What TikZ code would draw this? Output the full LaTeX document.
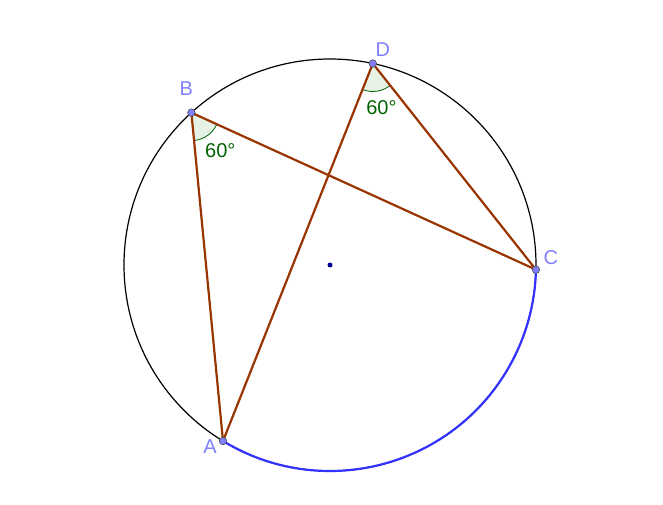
\documentclass[tikz,border=0pt]{standalone}
\usepackage{fontspec}
\setmainfont{Liberation Sans}
\usetikzlibrary{calc,angles}
\definecolor{segbrown}{HTML}{993300}
\definecolor{arcblue}{HTML}{3333FF}
\definecolor{ptblue}{HTML}{7F7FFF}
\definecolor{lblblue}{HTML}{8080FF}
\definecolor{angfill}{HTML}{E6F2E6}
\definecolor{anggreen}{HTML}{006400}

\begin{document}
\begin{tikzpicture}[x=1pt, y=1pt,
        seg/.style={segbrown, line width=2.2pt},
        pt/.style={circle, draw=black!70, fill=ptblue, line width=0.6pt, inner sep=0pt, minimum size=7.5pt},
        ptlabel/.style={lblblue, font=\fontsize{20}{24}\selectfont, inner sep=0pt},
        anglabel/.style={anggreen, font=\fontsize{20}{24}\selectfont, inner sep=0pt},
        angmark/.style={draw=anggreen, fill=angfill, line width=0.8pt, angle radius=28pt}]
        \useasboundingbox (0,0) rectangle (663,504);

        \coordinate (O) at (330,239);
        \coordinate (A) at ($(O)+(238.7:206)$);
        \coordinate (B) at ($(O)+(132.3:206)$);
        \coordinate (C) at ($(O)+(358.7:206)$);
        \coordinate (D) at ($(O)+(78:206)$);

        % circle and the arc AC
        \draw[black, line width=1.2pt] (O) circle[radius=206];
        \draw[arcblue, line width=2.2pt] (A) arc[start angle=238.7, end angle=358.7, radius=206];

        % inscribed angles
        \pic[angmark] {angle = A--B--C};
        \pic[angmark] {angle = A--D--C};
        \node[anglabel] (lB) at ($(B)+(-53:48)$) {60°};
        \node[anglabel] (lD) at ($(D)+(281:45)$) {60°};

        \draw[seg] (B) -- (A);
        \draw[seg] (B) -- (C);
        \draw[seg] (D) -- (A);
        \draw[seg] (D) -- (C);

        \node[circle, fill=blue!60!black, inner sep=0pt, minimum size=5pt] (M) at (O) {};
        \node[pt] (pA) at (A) {};
        \node[pt] (pB) at (B) {};
        \node[pt] (pC) at (C) {};
        \node[pt] (pD) at (D) {};

        \node[ptlabel] (nA) at ($(A)+(-13,-6)$) {A};
        \node[ptlabel] (nB) at ($(B)+(-5,24)$) {B};
        \node[ptlabel] (nC) at ($(C)+(15,12)$) {C};
        \node[ptlabel] (nD) at ($(D)+(10,14)$) {D};
    \end{tikzpicture}
\end{document}
